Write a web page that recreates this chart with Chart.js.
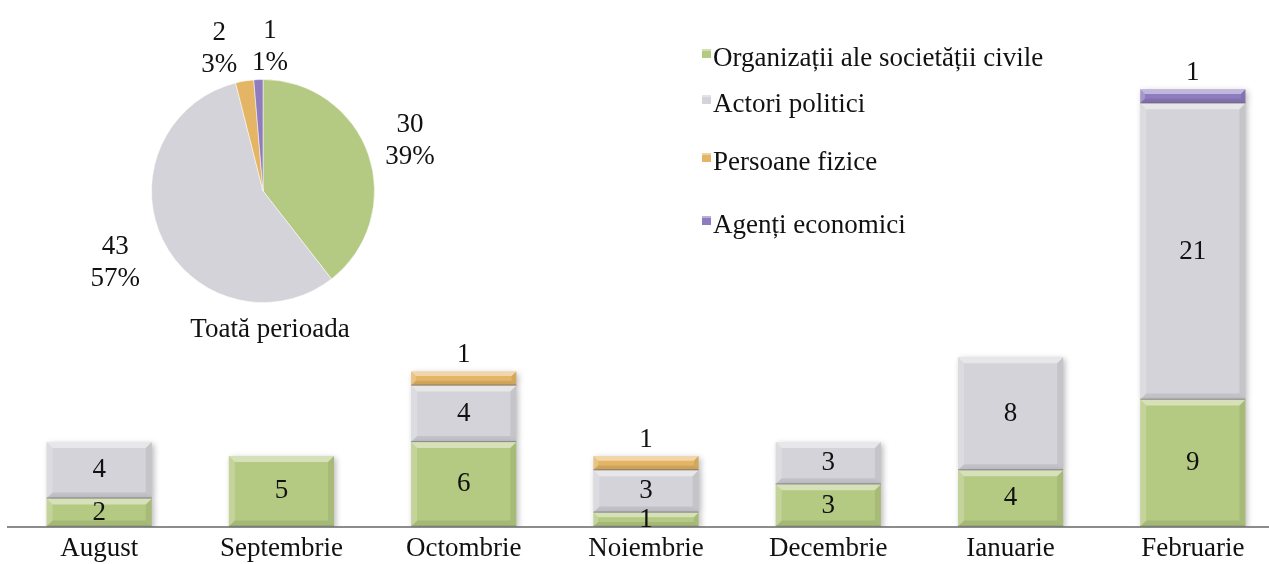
<!DOCTYPE html>
<html><head><meta charset="utf-8">
<script src="https://cdn.jsdelivr.net/npm/chart.js@4"></script>
<style>
html,body{margin:0;padding:0;background:#fff;overflow:hidden;width:1269px;height:564px}
#bar{position:absolute;left:0;top:0}
#pie{position:absolute;left:0;top:0}
</style>
</head><body>
<canvas id="bar" width="1290" height="571"></canvas>
<canvas id="pie" width="470" height="360"></canvas>
<script>
const categories = ['August','Septembrie','Octombrie','Noiembrie','Decembrie','Ianuarie','Februarie'];
const seriesNames = ['Organizații ale societății civile','Actori politici','Persoane fizice','Agenți economici'];
const organizatii = [2,5,6,1,3,4,9];
const actori = [4,0,4,3,3,8,21];
const persoane = [0,0,1,1,0,0,0];
const agenti = [0,0,0,0,0,0,1];
const pieTitle = 'Toată perioada';
const colors = ['#b4c981','#d3d3d9','#e3b565','#8f7cbf'];
const FONT = "'Liberation Serif', 'DejaVu Serif', serif";
const FS = 27;

const series = [organizatii, actori, persoane, agenti];
const totals = series.map(s => s.reduce((a,b)=>a+b,0));
const grand = totals.reduce((a,b)=>a+b,0);

const barPlugin = {
  id:'barDeco',
  beforeDatasetsDraw(chart){
    const ctx=chart.ctx; ctx.save();
    ctx.shadowColor='rgba(0,0,0,0.28)'; ctx.shadowBlur=6; ctx.shadowOffsetX=2; ctx.shadowOffsetY=2;
  },
  afterDatasetsDraw(chart){
    const ctx=chart.ctx; ctx.restore();
    chart.data.datasets.forEach((ds,di)=>{
      const meta=chart.getDatasetMeta(di);
      meta.data.forEach((el,i)=>{
        if(!ds.data[i]) return;
        const {x,y,base,width}=el.getProps(['x','y','base','width'],true);
        const l=x-width/2, h=base-y;
        const b=Math.min(6,h/3);
        ctx.save();
        ctx.fillStyle='rgba(255,255,255,0.45)';
        ctx.beginPath();ctx.moveTo(l,y);ctx.lineTo(l+width,y);ctx.lineTo(l+width-b,y+b);ctx.lineTo(l+b,y+b);ctx.closePath();ctx.fill();
        ctx.fillStyle='rgba(0,0,0,0.08)';
        ctx.beginPath();ctx.moveTo(l,base);ctx.lineTo(l+width,base);ctx.lineTo(l+width-b,base-b);ctx.lineTo(l+b,base-b);ctx.closePath();ctx.fill();
        ctx.fillStyle='rgba(0,0,0,0.07)';
        ctx.beginPath();ctx.moveTo(l+width,y);ctx.lineTo(l+width,base);ctx.lineTo(l+width-b,base-b);ctx.lineTo(l+width-b,y+b);ctx.closePath();ctx.fill();
        ctx.fillStyle='rgba(255,255,255,0.2)';
        ctx.beginPath();ctx.moveTo(l,y);ctx.lineTo(l,base);ctx.lineTo(l+b,base-b);ctx.lineTo(l+b,y+b);ctx.closePath();ctx.fill();
        ctx.fillStyle='rgba(110,110,110,0.55)';
        ctx.fillRect(l,base-1,width,1.2);
        ctx.restore();
      });
    });
  },
  afterDraw(chart){
    const ctx=chart.ctx;
    ctx.save();
    ctx.font=FS+'px '+FONT; ctx.fillStyle='#111'; ctx.textAlign='center'; ctx.textBaseline='middle';
    chart.data.datasets.forEach((ds,di)=>{
      const meta=chart.getDatasetMeta(di);
      meta.data.forEach((el,i)=>{
        const v=ds.data[i]; if(!v) return;
        const {x,y,base}=el.getProps(['x','y','base'],true);
        const ty = di>=2 ? y-16 : (y+base)/2;
        ctx.fillText(String(v),x,ty);
      });
    });
    const baselines=[66,112,170,233];
    ctx.textAlign='left'; ctx.textBaseline='alphabetic';
    chart.data.datasets.forEach((ds,di)=>{
      const by=baselines[di];
      ctx.fillStyle=ds.backgroundColor;
      ctx.fillRect(702,by-17,9,9);
      ctx.fillStyle='rgba(255,255,255,0.4)';ctx.fillRect(702,by-17,9,2);
      ctx.fillStyle='#111';
      ctx.fillText(ds.label,713,by);
    });
    ctx.restore();
  }
};

new Chart(document.getElementById('bar'),{
  type:'bar',
  data:{labels:categories,datasets:series.map((s,i)=>({label:seriesNames[i],data:s,backgroundColor:colors[i],borderWidth:0}))},
  options:{
    responsive:false,animation:false,devicePixelRatio:1,
    layout:{padding:{left:8,right:6,top:61,bottom:0}},
    datasets:{bar:{categoryPercentage:1,barPercentage:0.577}},
    plugins:{legend:{display:false},tooltip:{enabled:false}},
    scales:{
      x:{stacked:true,grid:{display:false,drawTicks:false},border:{display:true,color:'#8c8c8c',width:2},
         ticks:{color:'#111',font:{family:FONT,size:FS},padding:6}},
      y:{stacked:true,display:false,min:0,max:33}
    }
  },
  plugins:[barPlugin]
});

const piePlugin={
  id:'pieLabels',
  afterDraw(chart){
    const ctx=chart.ctx; ctx.save();
    ctx.font=FS+'px '+FONT; ctx.fillStyle='#111'; ctx.textAlign='center'; ctx.textBaseline='middle';
    const meta=chart.getDatasetMeta(0);
    const ds=chart.data.datasets[0].data;
    const extra=[44,53,33,33], shiftX=[0,0,-20,13];
    meta.data.forEach((arc,i)=>{
      const {x,y,startAngle,endAngle,outerRadius}=arc.getProps(['x','y','startAngle','endAngle','outerRadius'],true);
      const a=(startAngle+endAngle)/2, d=outerRadius+extra[i];
      const cx=x+Math.cos(a)*d+shiftX[i], cy=y+Math.sin(a)*d;
      ctx.fillText(String(ds[i]),cx,cy-16);
      ctx.fillText(Math.round(ds[i]/grand*100)+'%',cx,cy+16);
    });
    ctx.fillText(pieTitle,270,330);
    ctx.restore();
  }
};

new Chart(document.getElementById('pie'),{
  type:'pie',
  data:{labels:seriesNames,datasets:[{data:totals,backgroundColor:colors,borderColor:'rgba(255,255,255,0.5)',borderWidth:1,hoverOffset:0}]},
  options:{
    responsive:false,animation:false,devicePixelRatio:1,
    layout:{padding:{left:151,right:95,top:79,bottom:57}},
    plugins:{legend:{display:false},tooltip:{enabled:false}}
  },
  plugins:[piePlugin]
});
</script>
</body></html>
